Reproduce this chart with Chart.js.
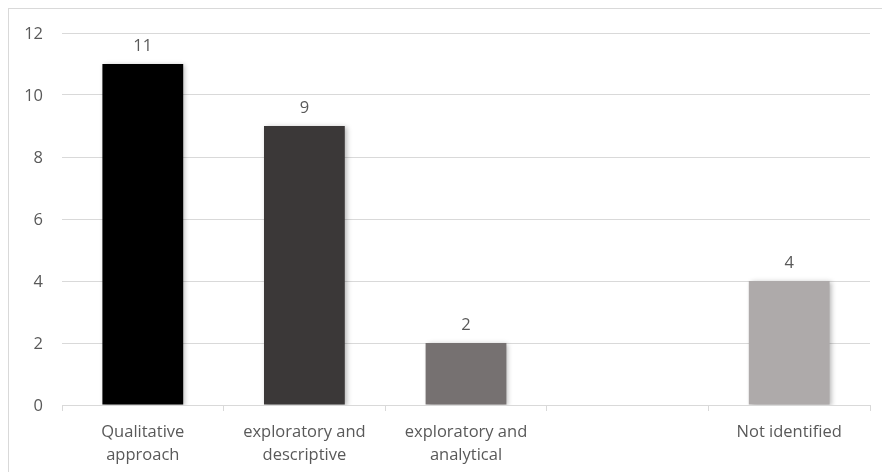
<!DOCTYPE html>
<html>
<head>
<meta charset="utf-8">
<script src="https://cdn.jsdelivr.net/npm/chart.js@4/dist/chart.umd.min.js"></script>
<style>
  html, body { margin: 0; padding: 0; background: #fff; overflow: hidden; }
  #wrap { position: relative; width: 882px; height: 472px; }
  #frame { position: absolute; left: 8px; top: 8px; width: 900px; height: 500px;
           border-top: 1px solid #d9d9d9; border-left: 1px solid #d9d9d9; }
  canvas { position: absolute; left: 0; top: 0; }
</style>
</head>
<body>
<div id="wrap">
  <div id="frame"></div>
  <canvas id="chart" width="882" height="472"></canvas>
</div>
<script>
// datos
const categories = [
  ['Qualitative', 'approach'],
  ['exploratory and', 'descriptive'],
  ['exploratory and', 'analytical'],
  '',
  'Not identified',
];
const values    = [11, 9, 2, null, 4];
const barColors = ['#000000', '#3b3838', '#767171', '#aeaaaa', '#aeaaaa'];
const yTicks    = [0, 2, 4, 6, 8, 10, 12];

const FONT = '"Open Sans", Lato, sans-serif';
const TEXT = '#595959';

// sombra suave tipo Excel en las barras
const barShadow = {
  id: 'barShadow',
  beforeDatasetsDraw(chart) {
    const ctx = chart.ctx;
    ctx.save();
    ctx.shadowColor   = 'rgba(0,0,0,0.28)';
    ctx.shadowBlur    = 5;
    ctx.shadowOffsetX = 2;
    ctx.shadowOffsetY = 1;
  },
  afterDatasetsDraw(chart) { chart.ctx.restore(); },
};

// etiquetas de valor encima de cada barra
const valueLabels = {
  id: 'valueLabels',
  afterDraw(chart) {
    const ctx  = chart.ctx;
    const meta = chart.getDatasetMeta(0);
    ctx.save();
    ctx.font = '16.5px ' + FONT;
    ctx.fillStyle = TEXT;
    ctx.textAlign = 'center';
    ctx.textBaseline = 'alphabetic';
    meta.data.forEach((bar, i) => {
      if (values[i] == null) return;
      ctx.fillText(String(values[i]), bar.x, bar.y - 13);
    });
    ctx.restore();
  },
};

new Chart(document.getElementById('chart'), {
  type: 'bar',
  data: {
    labels: categories,
    datasets: [{
      data:               values,
      backgroundColor:    barColors,
      borderWidth:        0,
      categoryPercentage: 1,
      barPercentage:      0.5,
    }],
  },
  plugins: [barShadow, valueLabels],
  options: {
    responsive: false,
    animation:  false,
    devicePixelRatio: 1,
    layout: { padding: { top: 33, right: 12, left: 0, bottom: 0 } },
    plugins: { legend: { display: false }, tooltip: { enabled: false } },
    scales: {
      x: {
        grid:   { offset: true, drawOnChartArea: false, drawTicks: true, tickLength: 6, color: '#d9d9d9' },
        border: { color: '#d9d9d9' },
        ticks:  { color: TEXT, font: { family: FONT, size: 16.5, lineHeight: 1.4 }, padding: 10, maxRotation: 0, autoSkip: false },
        afterFit(axis) { axis.height = 67; },
      },
      y: {
        min: 0,
        max: 12,
        afterBuildTicks(axis) { axis.ticks = yTicks.map(v => ({ value: v })); },
        grid:   { color: '#d9d9d9', drawTicks: false },
        border: { display: false },
        ticks:  { color: TEXT, font: { family: FONT, size: 16.5 }, padding: 19, labelOffset: 1.5 },
        afterFit(axis) { axis.width = 62; },
      },
    },
  },
});
</script>
</body>
</html>
